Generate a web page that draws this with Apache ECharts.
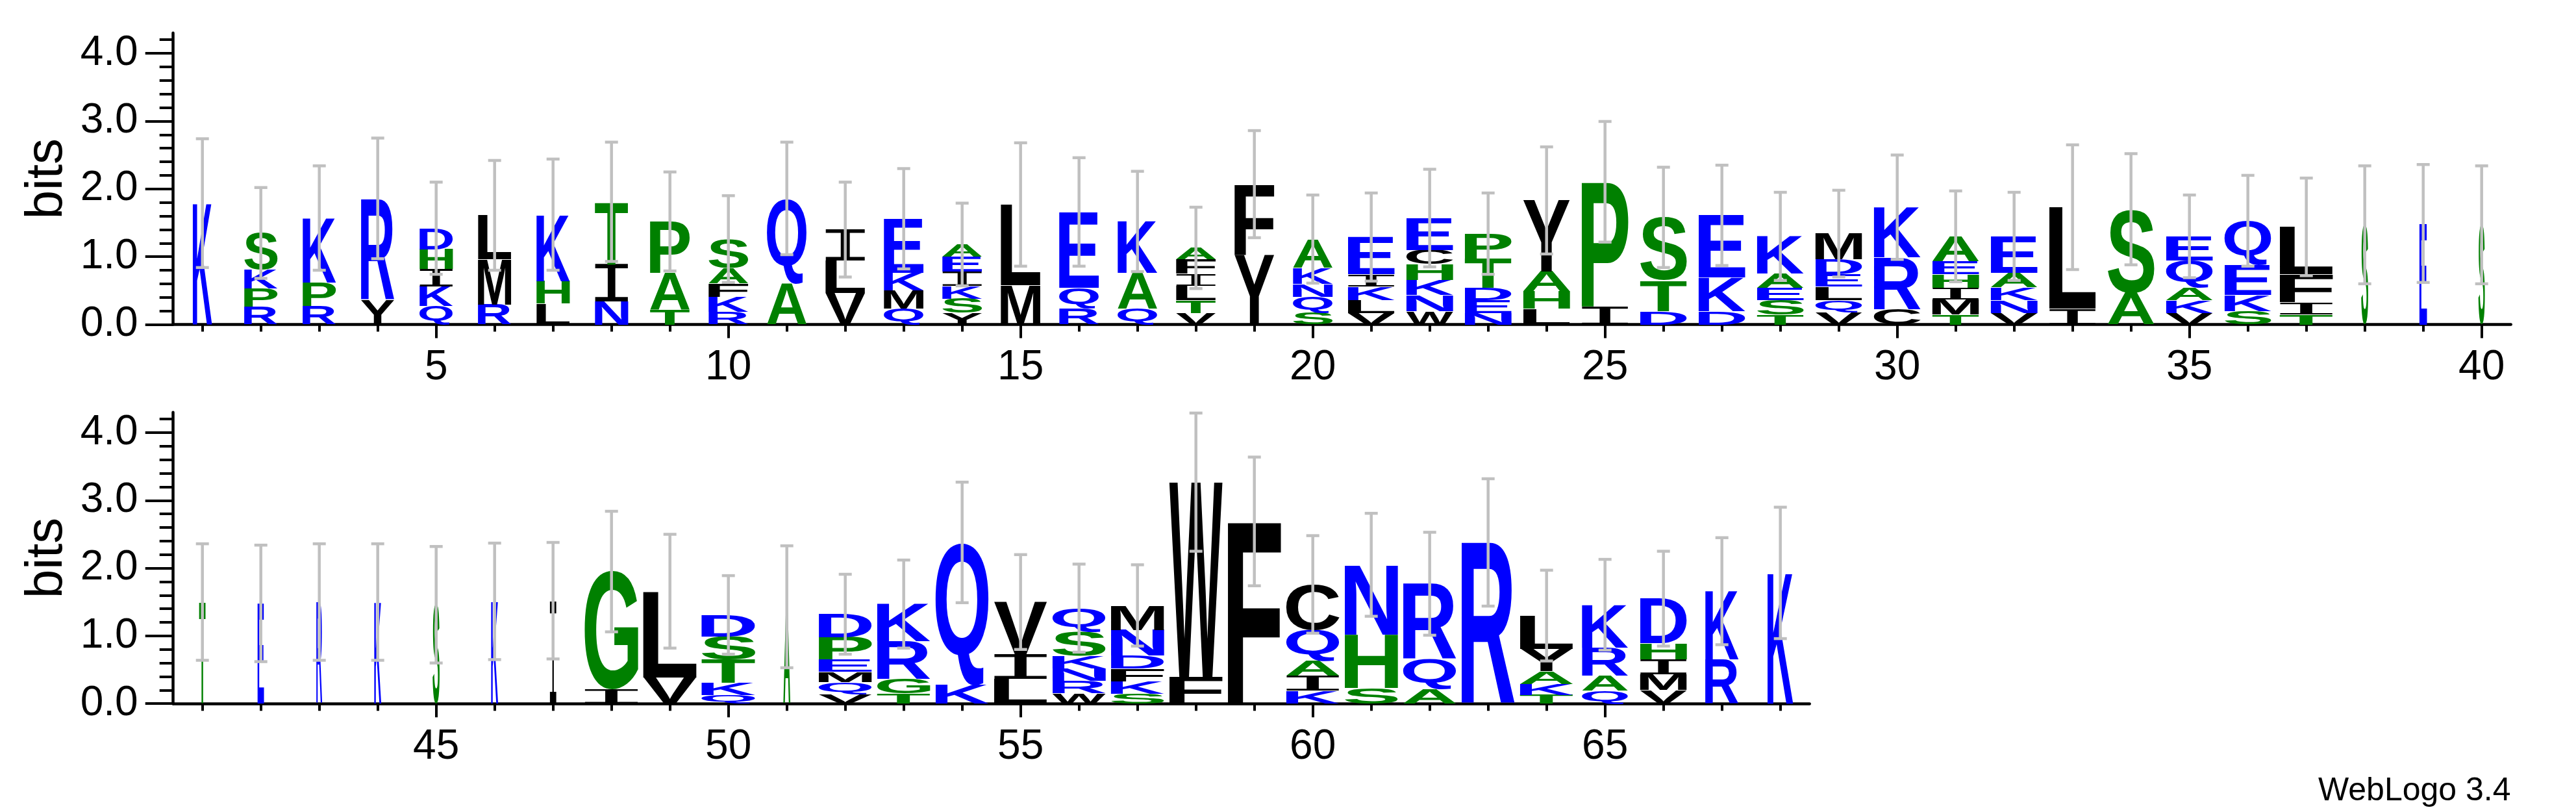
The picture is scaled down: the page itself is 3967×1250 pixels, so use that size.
<!DOCTYPE html>
<html>
<head>
<meta charset="utf-8">
<script src="https://cdn.jsdelivr.net/npm/echarts@6/dist/echarts.min.js"></script>
<style>html,body{margin:0;padding:0;background:#fff}#chart{width:3967px;height:1250px}</style>
</head>
<body>
<div id="chart"></div>
<script>
// ---------- DATA (read from the reference logo) ----------
// letters of each stack, listed bottom -> top
const stackLetters = ['K','RPKS','RPK','YR','QKIHD','RML','LHK','NIT','TAP','RKFAS',
  'AQ','VLI','QMKE','YSKIEA','ML','RQE','QAK','VTLIFA','YF','SQNKA',
  'VLKIE','WNKHCE','NEDTP','LHAY','IP','DTS','DKE','TSEAK','VQLEDM','CRK',
  'TMIHEA','VNKAE','IL','AS','VKAQE','SKEQ','TIFL','S','E','S',
  'T','E','R','K','S','K','I','IG','VL','QKTSD',
  'A','VQMEPD','TGRK','KQ','LIV','WRNKSQ','SKFDNM','FW','F','KIAQC',
  'SHN','AQR','R','TKAYL','QARK','VMIHD','RK','K'];
// letter heights in bits, same order as the letters
const stackHeights = [
  [1.79],[.26,.27,.28,.54],[.27,.35,.95],[.37,1.49],[.27,.29,.26,.29,.31],
  [.29,.67,.65],[.31,.33,.98],[.34,.55,.92],[.22,.54,.76],[.19,.22,.20,.22,.43],
  [.61,1.25],[.46,.48,.46],[.23,.27,.26,.80],[.17,.21,.19,.21,.22,.18],[.58,1.19],
  [.23,.31,1.12],[.23,.53,.76],[.17,.19,.21,.18,.21,.17],[1.03,1.04],[.17,.24,.19,.24,.42],
  [.17,.19,.20,.18,.55],[.20,.24,.22,.23,.21,.47],[.17,.19,.18,.43,.37],[.23,.26,.29,1.05],[.265,1.84],
  [.20,.45,.93],[.20,.49,.92],[.15,.21,.18,.21,.55],[.18,.18,.20,.18,.22,.38],[.22,.77,.74],
  [.15,.22,.17,.20,.19,.37],[.17,.19,.19,.21,.54],[.23,1.50],[.47,1.23],[.17,.19,.19,.39,.36],
  [.20,.24,.44,.65],[.15,.18,.41,.70],[1.47],[1.49],[1.47],
  [1.50],[1.48],[1.50],[1.50],[1.46],
  [1.51],[1.52],[.21,1.74],[.39,1.27],[.13,.18,.34,.34,.32],
  [1.43],[.14,.18,.15,.18,.33,.34],[.15,.21,.56,.55],[.28,2.10],[.37,.36,.77],
  [.15,.19,.18,.19,.35,.35],[.15,.18,.19,.19,.38,.36],[.39,2.88],[2.69],[.19,.22,.22,.46,.67],
  [.23,.79,1.03],[.21,.45,1.11],[2.38],[.13,.16,.19,.33,.49],[.19,.22,.42,.63],
  [.20,.23,.22,.24,.66],[.65,1.01],[1.93]];
// error bar half-length (bits)
const errorBars = [.95,.67,.77,.89,.68,.81,.82,.88,.73,.64,
  .83,.70,.74,.61,.91,.80,.74,.60,.79,.65,
  .65,.72,.60,.79,.89,.74,.74,.65,.64,.77,
  .67,.65,.92,.82,.61,.67,.72,.87,.87,.87,
  .86,.86,.86,.86,.86,.86,.86,.89,.84,.58,
  .90,.59,.65,.89,.70,.65,.60,1.02,.95,.72,
  .76,.76,.94,.67,.67,.70,.79,.97];
// stack width (fraction of the position spacing)
const stackWidths = [.33,.57,.57,.57,.57,.57,.57,.57,.68,.68,
  .68,.68,.68,.68,.68,.68,.68,.68,.68,.68,
  .80,.80,.80,.80,.80,.80,.80,.80,.80,.80,
  .80,.80,.80,.80,.80,.80,.91,.12,.13,.11,
  .11,.11,.10,.12,.12,.12,.11,.92,.92,.92,
  .12,.91,.91,.91,.91,.91,.91,.91,.91,.91,
  .91,.91,.91,.91,.79,.80,.57,.44];
const firstPosition = 1;
const topRowCount = 40;
// tick labels
const xLabelsTop = [5,10,15,20,25,30,35,40];
const xLabelsBottom = [45,50,55,60,65];
const yMajorTicks = [0,1,2,3,4];
const yMinorTicks = [0.2,0.4,0.6,0.8,1.2,1.4,1.6,1.8,2.2,2.4,2.6,2.8,3.2,3.4,3.6,3.8,4.2];
// residue colour groups
const blueResidues = 'DEKNQR';
const greenResidues = 'AGHPST';
const blackResidues = 'CFILMVWY';
const footerText = 'WebLogo 3.4';

// ---------- helpers ----------
function residueColor(ch) {
  if (blueResidues.indexOf(ch) >= 0) return '#0000ff';
  if (greenResidues.indexOf(ch) >= 0) return '#008000';
  return '#000000';
}
const mctx = document.createElement('canvas').getContext('2d');
const mcache = {};
function glyph(ch) {
  if (mcache[ch]) return mcache[ch];
  const font = ch === 'I' ? '200px "Liberation Mono"' : 'bold 200px "Liberation Sans"';
  mctx.font = font; mctx.textBaseline = 'middle'; mctx.textAlign = 'left';
  const m = mctx.measureText(ch);
  return (mcache[ch] = {font, A: m.actualBoundingBoxAscent, D: m.actualBoundingBoxDescent,
    L: m.actualBoundingBoxLeft, R: m.actualBoundingBoxRight});
}
const positions = stackLetters.map((s, i) => firstPosition + i);
const topData = positions.slice(0, topRowCount).map(p => [p]);
const bottomData = positions.slice(topRowCount).map(p => [p]);

function renderStack(params, api) {
  const pos = api.value(0);
  const i = pos - firstPosition;
  const unit = api.size([1, 1]);
  const colW = unit[0] * stackWidths[i];
  const cx = api.coord([pos, 0])[0];
  const children = [];
  let cum = 0;
  const letters = stackLetters[i];
  for (let k = 0; k < letters.length; k++) {
    const ch = letters[k];
    const h = stackHeights[i][k];
    const yb = api.coord([pos, cum])[1];
    const yt = api.coord([pos, cum + h])[1];
    cum += h;
    const g = glyph(ch);
    const sx = colW / (g.L + g.R);
    const sy = (yb - yt) / (g.A + g.D);
    children.push({
      type: 'text', silent: true,
      x: cx - colW / 2 + g.L * sx, y: yt + g.A * sy, scaleX: sx, scaleY: sy,
      style: {text: ch, x: 0, y: 0, font: g.font, fill: residueColor(ch),
        textAlign: 'left', textVerticalAlign: 'middle', align: 'left', verticalAlign: 'middle'}
    });
  }
  return {type: 'group', children};
}
function renderError(params, api) {
  const pos = api.value(0);
  const i = pos - firstPosition;
  const total = stackHeights[i].reduce((a, b) => a + b, 0);
  const e = errorBars[i];
  const p1 = api.coord([pos, total + e]);
  const p0 = api.coord([pos, total - e]);
  const cap = 10;
  const st = {stroke: '#c0c0c0', lineWidth: 4.5};
  return {type: 'group', children: [
    {type: 'line', shape: {x1: p0[0], y1: p0[1], x2: p1[0], y2: p1[1]}, style: st},
    {type: 'line', shape: {x1: p1[0] - cap, y1: p1[1], x2: p1[0] + cap, y2: p1[1]}, style: st},
    {type: 'line', shape: {x1: p0[0] - cap, y1: p0[1], x2: p0[0] + cap, y2: p0[1]}, style: st}
  ]};
}

// ---------- layout ----------
const FONT = '"Liberation Sans", Arial, sans-serif';
const spacing = 90;
const left = 266.7;
const topGrid = {left: left, top: 50.8, width: spacing * 40, height: 448.7};
const botGrid = {left: left, top: 634.8, width: spacing * 28, height: 448.4};

function minorX(gi, min, max, ticks) {
  return {gridIndex: gi, type: 'value', min, max,
    axisLine: {show: true, onZero: false, lineStyle: {color: '#000', width: 4.5}},
    axisTick: {show: true, customValues: ticks, length: 11, lineStyle: {color: '#000', width: 4}},
    axisLabel: {show: false}, splitLine: {show: false}};
}
function majorX(gi, min, max, labels) {
  return {gridIndex: gi, type: 'value', min, max,
    axisLine: {show: false},
    axisTick: {show: true, customValues: labels, length: 21, lineStyle: {color: '#000', width: 4}},
    axisLabel: {show: true, customValues: labels, margin: 35, fontSize: 64, fontFamily: FONT, color: '#000'},
    splitLine: {show: false}};
}
function minorY(gi) {
  return {gridIndex: gi, type: 'value', min: 0, max: 4.3,
    axisLine: {show: true, lineStyle: {color: '#000', width: 4.5}},
    axisTick: {show: true, customValues: yMinorTicks, length: 21, lineStyle: {color: '#000', width: 4}},
    axisLabel: {show: false}, splitLine: {show: false}};
}
function majorY(gi) {
  return {gridIndex: gi, type: 'value', min: 0, max: 4.3,
    name: 'bits', nameLocation: 'middle', nameGap: 152,
    nameTextStyle: {fontSize: 80, fontFamily: FONT, color: '#000'},
    axisLine: {show: false},
    axisTick: {show: true, customValues: yMajorTicks, length: 43, lineStyle: {color: '#000', width: 4}},
    axisLabel: {show: true, customValues: yMajorTicks, margin: 54, fontSize: 64, fontFamily: FONT, color: '#000',
      formatter: v => Number(v).toFixed(1)},
    splitLine: {show: false}};
}

const xTop = positions.slice(0, topRowCount);
const xBot = positions.slice(topRowCount);
const chart = echarts.init(document.getElementById('chart'), null, {renderer: 'canvas'});
chart.setOption({
  animation: false,
  backgroundColor: '#ffffff',
  grid: [topGrid, topGrid, botGrid, botGrid],
  xAxis: [
    minorX(0, 0.5, 40.5, xTop), majorX(1, 0.5, 40.5, xLabelsTop),
    minorX(2, 40.5, 68.5, xBot), majorX(3, 40.5, 68.5, xLabelsBottom)
  ],
  yAxis: [minorY(0), majorY(1), minorY(2), majorY(3)],
  series: [
    {type: 'custom', name: 'logo-top', xAxisIndex: 0, yAxisIndex: 0, data: topData, renderItem: renderStack, clip: false, z: 2},
    {type: 'custom', name: 'err-top', xAxisIndex: 0, yAxisIndex: 0, data: topData, renderItem: renderError, clip: false, z: 3},
    {type: 'custom', name: 'logo-bottom', xAxisIndex: 2, yAxisIndex: 2, data: bottomData, renderItem: renderStack, clip: false, z: 2},
    {type: 'custom', name: 'err-bottom', xAxisIndex: 2, yAxisIndex: 2, data: bottomData, renderItem: renderError, clip: false, z: 3}
  ],
  graphic: [{type: 'text', left: 3570, top: 1193,
    style: {text: footerText, font: '50px ' + FONT, fill: '#000'}}]
});
</script>
</body>
</html>
